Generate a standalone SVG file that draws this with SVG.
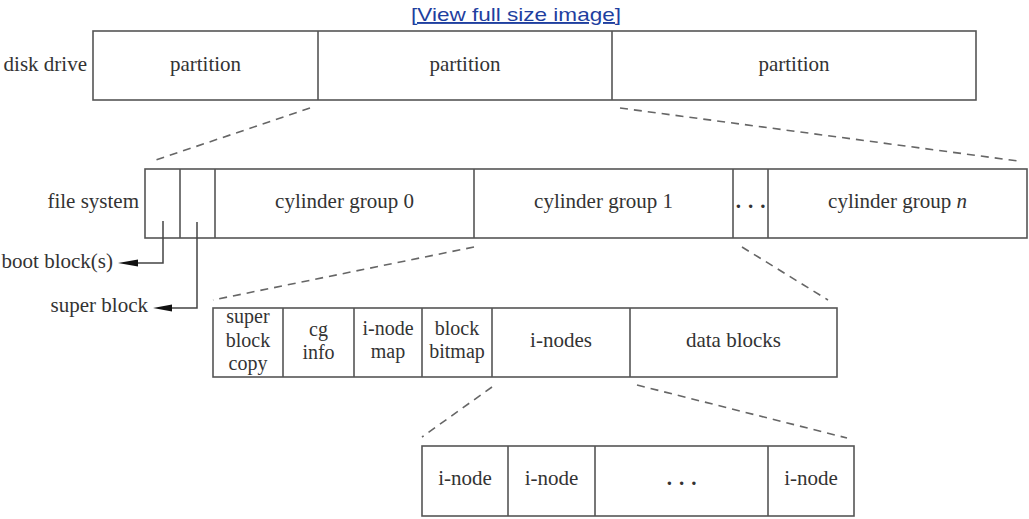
<svg xmlns="http://www.w3.org/2000/svg" width="1029" height="519" viewBox="0 0 1029 519">
<defs>
<style>
.box{fill:#fff;stroke:#555;stroke-width:1.6}
.div{stroke:#555;stroke-width:1.6;fill:none}
.dash{stroke:#666;stroke-width:1.6;stroke-dasharray:8 6;fill:none}
.lead{stroke:#444;stroke-width:1.5;fill:none}
.t{font-family:"Liberation Serif","Times New Roman",serif;font-size:21px;fill:#333}
.c{text-anchor:middle}
.e{text-anchor:end}
.s{font-size:20px}
.b{font-size:21px}
.link{font-family:"Liberation Sans",Arial,sans-serif;font-size:19px;fill:#1f3f9f;text-decoration:underline}
</style>
</defs>

<text class="link" x="411" y="21" textLength="210" lengthAdjust="spacingAndGlyphs">[View full size image]</text>

<g id="disk-drive">
<text class="t e" x="87" y="71">disk drive</text>
<rect class="box" x="93" y="31" width="883" height="69"/>
<line class="div" x1="318" y1="31" x2="318" y2="100"/>
<line class="div" x1="612" y1="31" x2="612" y2="100"/>
<text class="t c" x="205.5" y="71">partition</text>
<text class="t c" x="465" y="71">partition</text>
<text class="t c" x="794" y="71">partition</text>
</g>

<g id="file-system">
<text class="t e" x="139" y="208">file system</text>
<rect class="box" x="145" y="169" width="882" height="69"/>
<line class="div" x1="180" y1="169" x2="180" y2="238"/>
<line class="div" x1="215" y1="169" x2="215" y2="238"/>
<line class="div" x1="474" y1="169" x2="474" y2="238"/>
<line class="div" x1="733" y1="169" x2="733" y2="238"/>
<line class="div" x1="768" y1="169" x2="768" y2="238"/>
<text class="t c" x="344.5" y="208">cylinder group 0</text>
<text class="t c" x="603.5" y="208">cylinder group 1</text>
<text class="t c" x="754" y="208" letter-spacing="7" font-weight="bold">...</text>
<text class="t c" x="897.5" y="208">cylinder group <tspan font-style="italic">n</tspan></text>
</g>

<g id="boot-block">
<text class="t e" x="113" y="268">boot block(s)</text>
</g>
<g id="super-block">
<text class="t e" x="148" y="312">super block</text>
</g>

<g id="cylinder-group">
<rect class="box" x="213" y="308" width="624" height="69"/>
<line class="div" x1="283" y1="308" x2="283" y2="377"/>
<line class="div" x1="354" y1="308" x2="354" y2="377"/>
<line class="div" x1="422" y1="308" x2="422" y2="377"/>
<line class="div" x1="492" y1="308" x2="492" y2="377"/>
<line class="div" x1="630" y1="308" x2="630" y2="377"/>
<text class="t s c" x="248" y="323">super</text>
<text class="t s c" x="248" y="347">block</text>
<text class="t s c" x="248" y="370">copy</text>
<text class="t s c" x="318.5" y="336">cg</text>
<text class="t s c" x="318.5" y="359">info</text>
<text class="t s c" x="388" y="335">i-node</text>
<text class="t s c" x="388" y="358">map</text>
<text class="t s c" x="457" y="335">block</text>
<text class="t s c" x="457" y="358">bitmap</text>
<text class="t c" x="561" y="347">i-nodes</text>
<text class="t c" x="733.5" y="347">data blocks</text>
</g>

<g id="inodes">
<rect class="box" x="422" y="446" width="432" height="70"/>
<line class="div" x1="508" y1="446" x2="508" y2="516"/>
<line class="div" x1="595" y1="446" x2="595" y2="516"/>
<line class="div" x1="768" y1="446" x2="768" y2="516"/>
<text class="t b c" x="465" y="485">i-node</text>
<text class="t b c" x="551.5" y="485">i-node</text>
<text class="t c" x="685" y="485" letter-spacing="7" font-weight="bold">...</text>
<text class="t b c" x="811" y="485">i-node</text>
</g>

<g id="connectors">
<line class="dash" x1="310" y1="108" x2="153" y2="161"/>
<line class="dash" x1="620" y1="108" x2="1018" y2="161"/>
<line class="dash" x1="474" y1="247" x2="213" y2="300"/>
<line class="dash" x1="742" y1="247" x2="828" y2="300"/>
<line class="dash" x1="492" y1="387" x2="422" y2="437"/>
<line class="dash" x1="637" y1="385" x2="847" y2="438"/>
<polyline class="lead" points="163,221 163,263 138,263"/>
<path d="M118,263 L138,259.5 L138,266.5 Z" fill="#111"/>
<polyline class="lead" points="197,222 197,308 172,308"/>
<path d="M153,308 L172,304.5 L172,311.5 Z" fill="#111"/>
</g>
</svg>
